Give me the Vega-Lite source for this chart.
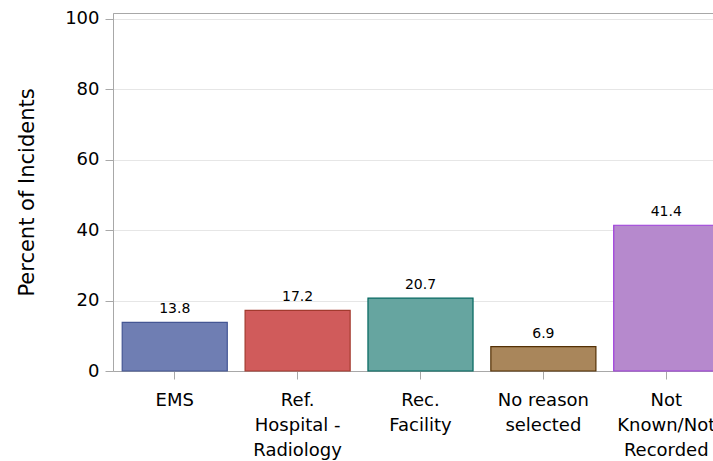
{
  "$schema": "https://vega.github.io/schema/vega-lite/v6.json",
  "width": 600,
  "height": 358,
  "autosize": {"type": "none"},
  "padding": {"left": 113, "top": 13, "right": 0, "bottom": 90},
  "background": "white",
  "config": {
    "font": "DejaVu Sans",
    "view": {"stroke": "#a8a8a8", "strokeWidth": 1}
  },
  "data": {
    "values": [
      {"reason": "EMS", "pct": 13.8},
      {"reason": "Ref. Hospital - Radiology", "pct": 17.2},
      {"reason": "Rec. Facility", "pct": 20.7},
      {"reason": "No reason selected", "pct": 6.9},
      {"reason": "Not Known/Not Recorded", "pct": 41.4}
    ]
  },
  "encoding": {
    "x": {
      "field": "reason",
      "type": "nominal",
      "sort": null,
      "scale": {"range": [0, 615], "paddingInner": 0.145, "paddingOuter": 0.075},
      "axis": {
        "title": null,
        "labelAngle": 0,
        "labelFontSize": 18,
        "labelColor": "#000000",
        "labelBaseline": "top",
        "labelPadding": 12,
        "labelLineHeight": 25,
        "tickSize": 8,
        "tickColor": "#a8a8a8",
        "domainColor": "#a8a8a8",
        "labelExpr": "datum.label == 'Ref. Hospital - Radiology' ? ['Ref.', 'Hospital -', 'Radiology'] : datum.label == 'Rec. Facility' ? ['Rec.', 'Facility'] : datum.label == 'No reason selected' ? ['No reason', 'selected'] : datum.label == 'Not Known/Not Recorded' ? ['Not', 'Known/Not', 'Recorded'] : datum.label"
      }
    },
    "y": {
      "field": "pct",
      "type": "quantitative",
      "scale": {"domain": [0, 101.7], "nice": false},
      "axis": {
        "title": "Percent of Incidents",
        "titleFontSize": 21,
        "titleFontWeight": "normal",
        "titleColor": "#000000",
        "titlePadding": 27,
        "values": [0, 20, 40, 60, 80, 100],
        "labelFontSize": 18,
        "labelColor": "#000000",
        "labelPadding": 6,
        "tickSize": 8,
        "tickColor": "#a8a8a8",
        "domainColor": "#a8a8a8",
        "grid": true,
        "gridColor": "#e6e6e6"
      }
    }
  },
  "layer": [
    {
      "mark": {"type": "bar", "strokeWidth": 1.2},
      "encoding": {
        "fill": {
          "field": "reason",
          "type": "nominal",
          "sort": null,
          "scale": {
            "domain": ["EMS", "Ref. Hospital - Radiology", "Rec. Facility", "No reason selected", "Not Known/Not Recorded"],
            "range": ["#6F7EB3", "#D05B5B", "#66A5A0", "#A9865B", "#B689CD"]
          },
          "legend": null
        },
        "stroke": {
          "field": "reason",
          "type": "nominal",
          "sort": null,
          "scale": {
            "domain": ["EMS", "Ref. Hospital - Radiology", "Rec. Facility", "No reason selected", "Not Known/Not Recorded"],
            "range": ["#445694", "#A23A2E", "#01665E", "#543005", "#9D3CDB"]
          },
          "legend": null
        }
      }
    },
    {
      "mark": {"type": "text", "baseline": "alphabetic", "dy": -9, "fontSize": 14, "color": "#000000"},
      "encoding": {
        "text": {"field": "pct", "type": "quantitative", "format": ".1f"}
      }
    }
  ]
}
